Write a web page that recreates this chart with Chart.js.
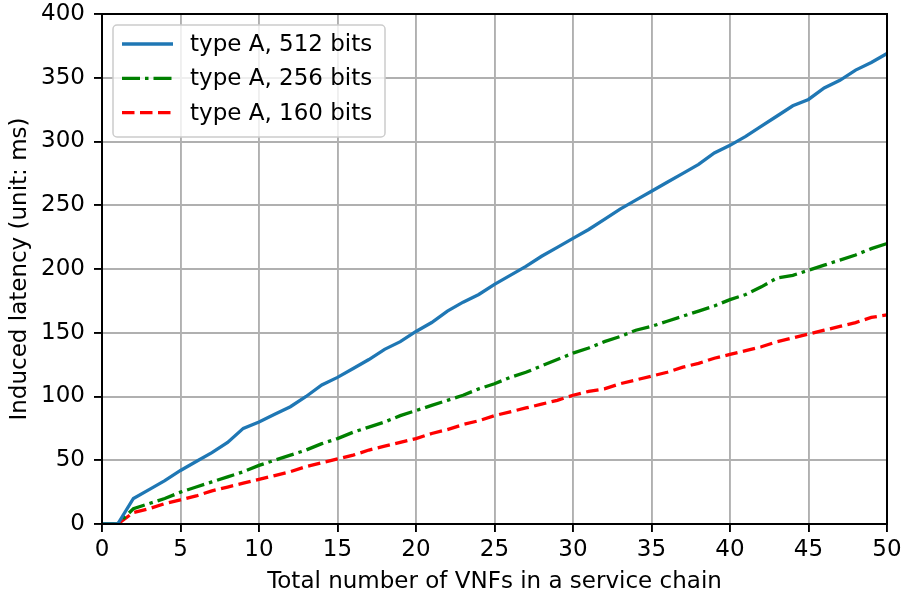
<!DOCTYPE html>
<html>
<head>
<meta charset="utf-8">
<script src="https://cdn.jsdelivr.net/npm/chart.js@4"></script>
<style>
    html, body { margin: 0; padding: 0; background: #ffffff; }
    #wrap { width: 904px; height: 599px; }
</style>
</head>
<body>
<div id="wrap"><canvas id="latency-chart" width="904" height="599"></canvas></div>
<script>
// number of VNFs in the chain (x axis)
var vnfCounts = [0, 1, 2, 3, 4, 5, 6, 7, 8, 9, 10, 11, 12, 13, 14, 15, 16, 17, 18, 19, 20,
    21, 22, 23, 24, 25, 26, 27, 28, 29, 30, 31, 32, 33, 34, 35, 36, 37, 38, 39, 40,
    41, 42, 43, 44, 45, 46, 47, 48, 49, 50];
// induced latency (ms) per key size
var latency512 = [0, 0, 20, 27, 34, 42, 49, 56, 64, 75, 80, 86, 92, 100, 109, 115, 122, 129, 137, 143, 151,
    158, 167, 174, 180, 188, 195, 202, 210, 217, 224, 231, 239, 247, 254, 261, 268, 275, 282, 291, 297,
    304, 312, 320, 328, 333, 342, 348, 356, 362, 369];
var latency256 = [0, 0, 12, 16, 20, 25, 29, 33, 37, 41, 46, 50, 54, 58, 63, 67, 72, 76, 80, 85, 89,
    93, 97, 101, 106, 110, 115, 119, 124, 129, 134, 138, 143, 147, 152, 155, 159, 163, 167, 171, 176,
    180, 186, 193, 195, 199, 203, 207, 211, 216, 220];
var latency160 = [0, 0, 9, 12, 16, 19, 22, 26, 29, 32, 35, 38, 41, 45, 48, 51, 54, 58, 61, 64, 67,
    71, 74, 78, 81, 85, 88, 91, 94, 97, 101, 104, 106, 110, 113, 116, 119, 123, 126, 130, 133,
    136, 139, 143, 146, 149, 152, 155, 158, 162, 164];
var seriesNames = ['type A, 512 bits', 'type A, 256 bits', 'type A, 160 bits'];
var xTicks = [0, 5, 10, 15, 20, 25, 30, 35, 40, 45, 50];
var yTicks = [0, 50, 100, 150, 200, 250, 300, 350, 400];

var FONT = '"DejaVu Sans", sans-serif';
var FONT_SIZE = 23;

// pair x values with y values for a linear x axis
function toPoints(values) {
    var points = [];
    for (var i = 0; i < vnfCounts.length; i++) {
        points.push({ x: vnfCounts[i], y: values[i] });
    }
    return points;
}

// draws the black frame around the plot area
var framePlugin = {
    id: 'frame',
    afterDraw: function(chart) {
        var a = chart.chartArea;
        var ctx = chart.ctx;
        ctx.save();
        ctx.strokeStyle = '#000000';
        ctx.lineWidth = 2;
        ctx.strokeRect(a.left, a.top, a.right - a.left, a.bottom - a.top);
        ctx.restore();
    }
};

// legend box inside the plot, upper left
var insideLegend = {
    id: 'insideLegend',
    afterDraw: function(chart) {
        var ctx = chart.ctx;
        var a = chart.chartArea;
        var x0 = a.left + 11, y0 = a.top + 11, w = 272, h = 112;
        ctx.save();
        ctx.fillStyle = 'rgba(255,255,255,0.8)';
        ctx.strokeStyle = '#cccccc';
        ctx.lineWidth = 1.5;
        ctx.beginPath();
        ctx.roundRect(x0, y0, w, h, 4);
        ctx.fill();
        ctx.stroke();
        ctx.font = FONT_SIZE + 'px ' + FONT;
        ctx.textBaseline = 'middle';
        chart.data.datasets.forEach(function(ds, i) {
            var yy = y0 + 19 + i * 34.3;
            ctx.strokeStyle = ds.borderColor;
            ctx.lineWidth = ds.borderWidth;
            ctx.setLineDash(ds.borderDash || []);
            ctx.beginPath();
            ctx.moveTo(x0 + 9, yy);
            ctx.lineTo(x0 + 60, yy);
            ctx.stroke();
            ctx.setLineDash([]);
            ctx.fillStyle = '#000000';
            ctx.fillText(ds.label, x0 + 77, yy + 1);
        });
        ctx.restore();
    }
};

var ctx = document.getElementById('latency-chart').getContext('2d');
var latencyChart = new Chart(ctx, {
    type: 'line',
    data: {
        datasets: [{
            label: seriesNames[0],
            data: toPoints(latency512),
            borderColor: '#1f77b4',
            borderWidth: 3.3,
            pointRadius: 0
        }, {
            label: seriesNames[1],
            data: toPoints(latency256),
            borderColor: '#008000',
            borderWidth: 3.3,
            borderDash: [18, 5, 3.5, 5],
            pointRadius: 0
        }, {
            label: seriesNames[2],
            data: toPoints(latency160),
            borderColor: '#ff0000',
            borderWidth: 3.3,
            borderDash: [12.5, 5.5],
            pointRadius: 0
        }]
    },
    plugins: [framePlugin, insideLegend],
    options: {
        responsive: false,
        animation: false,
        layout: { padding: { left: 0, top: 14, right: 17, bottom: 0 } },
        plugins: {
            legend: { display: false },
            tooltip: { enabled: false }
        },
        scales: {
            x: {
                type: 'linear',
                min: 0,
                max: 50,
                afterBuildTicks: function(scale) {
                    scale.ticks = xTicks.map(function(v) { return { value: v }; });
                },
                afterFit: function(scale) {
                    scale.height = 75;
                    scale.paddingLeft = 0;
                    scale.paddingRight = 0;
                },
                grid: { color: '#b0b0b0', lineWidth: 1.9, tickLength: 8, tickColor: '#000000' },
                border: { display: false },
                ticks: { color: '#000000', font: { family: FONT, size: FONT_SIZE }, padding: 4, maxRotation: 0 },
                title: {
                    display: true,
                    text: 'Total number of VNFs in a service chain',
                    color: '#000000',
                    font: { family: FONT, size: FONT_SIZE },
                    padding: { top: 0, bottom: 3 }
                }
            },
            y: {
                min: 0,
                max: 400,
                afterBuildTicks: function(scale) {
                    scale.ticks = yTicks.map(function(v) { return { value: v }; });
                },
                afterFit: function(scale) {
                    scale.width = 102;
                    scale.paddingTop = 0;
                    scale.paddingBottom = 0;
                },
                grid: { color: '#b0b0b0', lineWidth: 1.9, tickLength: 8, tickColor: '#000000' },
                border: { display: false },
                ticks: { color: '#000000', font: { family: FONT, size: FONT_SIZE }, padding: 9 },
                title: {
                    display: true,
                    text: 'Induced latency (unit: ms)',
                    color: '#000000',
                    font: { family: FONT, size: FONT_SIZE },
                    padding: { top: 6, bottom: 0 }
                }
            }
        }
    }
});
</script>
</body>
</html>
